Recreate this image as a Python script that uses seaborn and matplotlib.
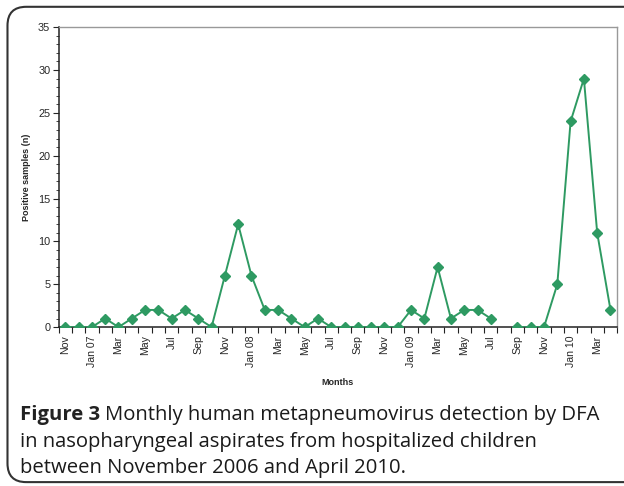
import numpy as np
import pandas as pd
import matplotlib
matplotlib.use("Agg")
import matplotlib.pyplot as plt
from matplotlib.patches import FancyBboxPatch
from matplotlib.ticker import MultipleLocator, FixedLocator
import seaborn as sns

# monthly counts, Nov 2006 - Apr 2010 (Aug 2009 missing)
months = ["Nov", "Dec", "Jan 07", "Feb", "Mar", "Apr", "May", "Jun", "Jul", "Aug", "Sep", "Oct",
          "Nov", "Dec", "Jan 08", "Feb", "Mar", "Apr", "May", "Jun", "Jul", "Aug", "Sep", "Oct",
          "Nov", "Dec", "Jan 09", "Feb", "Mar", "Apr", "May", "Jun", "Jul", "Aug", "Sep", "Oct",
          "Nov", "Dec", "Jan 10", "Feb", "Mar", "Apr"]
positives = [0, 0, 0, 1, 0, 1, 2, 2, 1, 2, 1, 0,
             6, 12, 6, 2, 2, 1, 0, 1, 0, 0, 0, 0,
             0, 0, 2, 1, 7, 1, 2, 2, 1, np.nan, 0, 0,
             0, 5, 24, 29, 11, 2]

df = pd.DataFrame({"pos": np.arange(len(months)), "month": months, "n": positives})

sns.set_style("ticks")
plt.rcParams["font.family"] = ["Liberation Sans", "DejaVu Sans"]

fig = plt.figure(figsize=(6.24, 4.86), dpi=100)
ax = fig.add_axes([0.094, 0.327, 0.895, 0.617])

green = "#2e9a62"
ax.plot(df["pos"], df["n"], color=green, lw=1.4, marker="D", ms=5.5,
        markeredgecolor=green, markerfacecolor=green, zorder=3)

ax.set_xlim(-0.5, len(months) - 0.5)
ax.set_ylim(0, 35)
ax.yaxis.set_major_locator(MultipleLocator(5))
ax.yaxis.set_minor_locator(MultipleLocator(1))

# labels every other month at category centres, tick marks between categories
ax.set_xticks(df["pos"][::2])
ax.set_xticklabels(df["month"][::2], rotation=90, fontsize=7.6)
ax.xaxis.set_minor_locator(FixedLocator(np.arange(-0.5, len(months), 1)))
ax.tick_params(axis="x", which="major", length=0, pad=6)
ax.tick_params(axis="x", which="minor", length=4, width=0.8, color="#222222", direction="out")
ax.tick_params(axis="y", which="major", length=4, width=0.8, labelsize=7.8, pad=2)
ax.tick_params(axis="y", which="minor", length=2, width=0.6)

for side in ["top", "right"]:
    ax.spines[side].set_visible(True)
    ax.spines[side].set_color("#999999")
    ax.spines[side].set_linewidth(1)
for side in ["left", "bottom"]:
    ax.spines[side].set_color("#222222")
    ax.spines[side].set_linewidth(1.1)

ax.set_ylabel("Positive samples (n)", fontsize=6.5, fontweight="bold", labelpad=5)
ax.set_xlabel("Months", fontsize=6.5, fontweight="bold", labelpad=8)

# rounded frame around figure + caption
frame = FancyBboxPatch((0.012, 0.008), 1.02, 0.978, boxstyle="round,pad=0,rounding_size=0.03",
                       transform=fig.transFigure, fill=False, edgecolor="#333333", lw=1.5,
                       mutation_aspect=624 / 486)
fig.patches.append(frame)

cap_font = ["Open Sans", "DejaVu Sans"]
cap_size = 14.6
y1 = 0.136
t = fig.text(0.032, y1, "Figure 3", fontsize=cap_size, fontweight="bold", family=cap_font,
             va="baseline", color="#222222")
fig.canvas.draw()
bb = t.get_window_extent(fig.canvas.get_renderer())
x_rest = (bb.x1 + 5) / fig.bbox.width
fig.text(x_rest, y1, "Monthly human metapneumovirus detection by DFA", fontsize=cap_size,
         family=cap_font, va="baseline", color="#1a1a1a")
fig.text(0.032, y1 - 0.055, "in nasopharyngeal aspirates from hospitalized children",
         fontsize=cap_size, family=cap_font, va="baseline", color="#1a1a1a")
fig.text(0.032, y1 - 0.109, "between November 2006 and April 2010.",
         fontsize=cap_size, family=cap_font, va="baseline", color="#1a1a1a")

fig.savefig("out.png", dpi=100)
